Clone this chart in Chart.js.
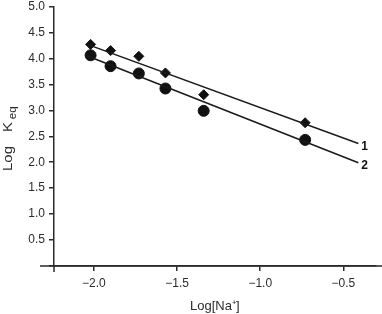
<!DOCTYPE html>
<html>
<head>
<meta charset="utf-8">
<script src="https://cdn.jsdelivr.net/npm/chart.js@4/dist/chart.umd.min.js"></script>
<style>
  html, body { margin: 0; padding: 0; background: #fff; }
  #wrap { width: 382px; height: 314px; }
</style>
</head>
<body>
<div id="wrap"><canvas id="mycanvas"></canvas></div>
<script>
// data
var logNa = [-2.02, -1.90, -1.73, -1.57, -1.34, -0.73];
var series1 = [4.27, 4.15, 4.04, 3.72, 3.30, 2.76];   // diamonds
var series2 = [4.06, 3.85, 3.71, 3.42, 2.99, 2.43];   // circles
var fit1 = [{x: -2.04, y: 4.27}, {x: -0.41, y: 2.36}];
var fit2 = [{x: -2.05, y: 4.06}, {x: -0.41, y: 1.99}];
var fitLabels = ["1", "2"];
var xTicks = [-2.0, -1.5, -1.0, -0.5];
var yTicks = [0, 0.5, 1.0, 1.5, 2.0, 2.5, 3.0, 3.5, 4.0, 4.5, 5.0];

var ink = "#2b2b2b";
var font = "'Liberation Sans', Arial, sans-serif";

function pts(xs, ys) {
	var out = [];
	for (var i in xs) out.push({x: xs[i], y: ys[i]});
	return out;
}

var extras = {
	id: "extras",
	afterDraw: function(chart) {
		var c = chart.ctx, a = chart.chartArea;
		var sx = chart.scales.x, sy = chart.scales.y;
		c.save();
		c.strokeStyle = ink;
		c.lineWidth = 1.5;
		// axis overhangs
		c.beginPath();
		c.moveTo(40, a.bottom); c.lineTo(382, a.bottom);
		c.moveTo(a.left, a.bottom); c.lineTo(a.left, a.bottom + 6);
		c.stroke();
		// line labels
		c.fillStyle = "#111";
		c.font = "bold 12px " + font;
		c.textBaseline = "middle";
		c.textAlign = "left";
		[fit1, fit2].forEach(function(f, i) {
			var p = f[1];
			c.fillText(fitLabels[i], sx.getPixelForValue(p.x) + 3, sy.getPixelForValue(p.y) + 3);
		});
		// y title with subscript
		c.fillStyle = ink;
		c.textBaseline = "alphabetic";
		c.translate(12, 171);
		c.rotate(-Math.PI / 2);
		c.scale(1.15, 1);
		c.font = "13px " + font;
		c.fillText("Log", 0, 0);
		c.fillText("K", 34, 0);
		c.font = "10px " + font;
		c.fillText("eq", 45, 4);
		c.restore();
	}
};

var chartdata = {
	datasets: [
		{
			type: "line",
			data: fit1,
			borderColor: "#1a1a1a",
			borderWidth: 1.5,
			pointRadius: 0,
			fill: false
		},
		{
			type: "line",
			data: fit2,
			borderColor: "#1a1a1a",
			borderWidth: 1.5,
			pointRadius: 0,
			fill: false
		},
		{
			type: "scatter",
			data: pts(logNa, series1),
			pointStyle: "rectRot",
			pointRadius: 5,
			backgroundColor: "#111",
			borderColor: "#111"
		},
		{
			type: "scatter",
			data: pts(logNa, series2),
			pointStyle: "circle",
			pointRadius: 5.5,
			backgroundColor: "#111",
			borderColor: "#111"
		}
	]
};

var ctx = document.getElementById("mycanvas");

var graph = new Chart(ctx, {
	type: "scatter",
	data: chartdata,
	plugins: [extras],
	options: {
		responsive: true,
		maintainAspectRatio: false,
		animation: false,
		layout: { padding: { top: 5, right: 0, left: 1, bottom: 0 } },
		plugins: { legend: { display: false }, tooltip: { enabled: false } },
		scales: {
			x: {
				type: "linear",
				min: -2.24,
				max: -0.307,
				afterBuildTicks: function(s) { s.ticks = xTicks.map(function(v) { return {value: v}; }); },
				afterFit: function(s) { s.height = 48; },
				border: { display: true, color: ink, width: 1.5 },
				grid: { drawOnChartArea: false, drawTicks: true, tickLength: 5, color: ink, lineWidth: 1.5 },
				ticks: {
					color: ink,
					padding: 5,
					font: { family: font, size: 12 },
					callback: function(v) { return "\u2212" + Math.abs(v).toFixed(1); }
				},
				title: {
					display: true,
					text: "Log[Na\u207A]",
					color: ink,
					padding: { top: 3, bottom: 0 },
					font: { family: font, size: 13 }
				}
			},
			y: {
				type: "linear",
				min: 0,
				max: 5,
				afterBuildTicks: function(s) { s.ticks = yTicks.map(function(v) { return {value: v}; }); },
				afterFit: function(s) { s.width = 53; s.paddingTop = 0; },
				border: { display: true, color: ink, width: 1.5 },
				grid: { drawOnChartArea: false, drawTicks: true, tickLength: 5, color: ink, lineWidth: 1.5 },
				ticks: {
					color: ink,
					padding: 4,
					font: { family: font, size: 12 },
					callback: function(v) { return v === 0 ? "" : v.toFixed(1); }
				}
			}
		}
	}
});
</script>
</body>
</html>
